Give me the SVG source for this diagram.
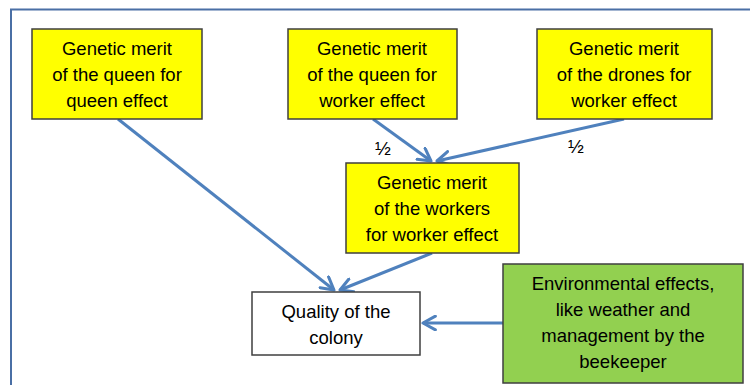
<svg xmlns="http://www.w3.org/2000/svg" width="750" height="385" viewBox="0 0 750 385">
<defs>
<style>
.box{stroke:#3f3f3f;stroke-width:1.5}
.y{fill:#ffff00}
.g{fill:#92d050}
.w{fill:#ffffff}
text{font-family:"Liberation Sans",Arial,sans-serif;font-size:18.5px;fill:#000;text-anchor:middle}
.h{font-size:19px}
.c{stroke:#4f81bd;stroke-width:3;fill:none;marker-end:url(#ah)}
</style>
<marker id="ah" viewBox="0 0 12 12" refX="10" refY="6" markerWidth="5.5" markerHeight="5.5" orient="auto" markerUnits="strokeWidth">
<path d="M1,1 L10,6 L1,11" fill="none" stroke="#4f81bd" stroke-width="2.2" stroke-linecap="round" stroke-linejoin="round"/>
</marker>
</defs>
<rect width="750" height="385" fill="#fff"/>
<path d="M11,385 V9.5 H750" fill="none" stroke="#4a6fa5" stroke-width="2"/>
<g id="connectors">
<line class="c" x1="118" y1="119" x2="334" y2="290"/>
<line class="c" x1="373" y1="119" x2="431" y2="161"/>
<line class="c" x1="624" y1="119" x2="437" y2="161"/>
<line class="c" x1="432" y1="253" x2="340" y2="290"/>
<line class="c" x1="503" y1="323" x2="423" y2="323"/>
<text class="h" x="383" y="155">½</text>
<text class="h" x="576" y="153">½</text>
</g>
<g id="n1">
<rect class="box y" x="32" y="29" width="170" height="90"/>
<text x="117" y="55">Genetic merit</text>
<text x="117" y="81">of the queen for</text>
<text x="117" y="107">queen effect</text>
</g>
<g id="n2">
<rect class="box y" x="288" y="29" width="169" height="90"/>
<text x="372" y="55">Genetic merit</text>
<text x="372" y="81">of the queen for</text>
<text x="372" y="107">worker effect</text>
</g>
<g id="n3">
<rect class="box y" x="537" y="29" width="175" height="90"/>
<text x="624" y="55">Genetic merit</text>
<text x="624" y="81">of the drones for</text>
<text x="624" y="107">worker effect</text>
</g>
<g id="n4">
<rect class="box y" x="346" y="163" width="173" height="90"/>
<text x="432" y="189">Genetic merit</text>
<text x="432" y="215">of the workers</text>
<text x="432" y="241">for worker effect</text>
</g>
<g id="n5">
<rect class="box w" x="252" y="292" width="168" height="63"/>
<text x="336" y="318">Quality of the</text>
<text x="336" y="344">colony</text>
</g>
<g id="n6">
<rect class="box g" x="503" y="264" width="240" height="119"/>
<text x="623" y="290">Environmental effects,</text>
<text x="623" y="316">like weather and</text>
<text x="623" y="342">management by the</text>
<text x="623" y="368">beekeeper</text>
</g>
</svg>
